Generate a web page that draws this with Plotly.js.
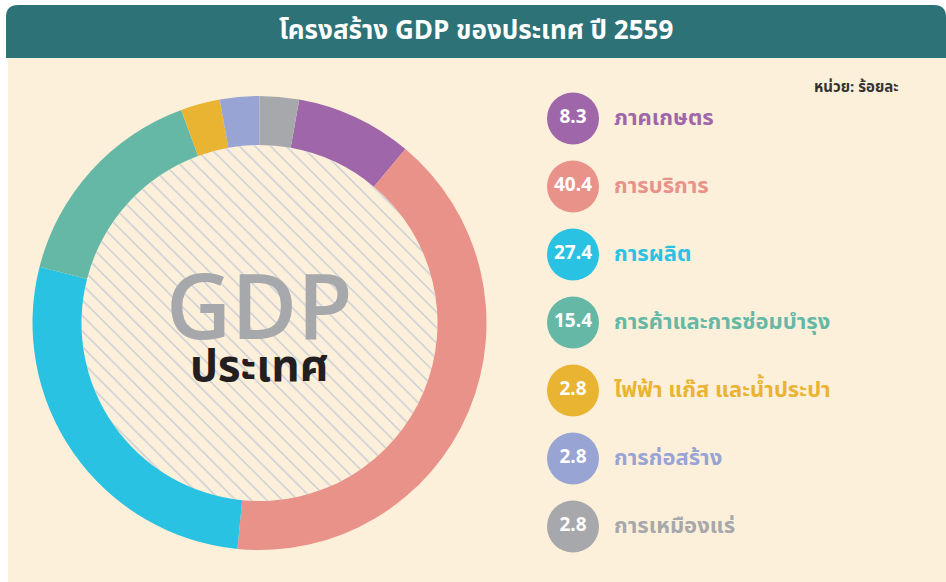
<!DOCTYPE html>
<html>
<head>
<meta charset="utf-8">
<script src="https://cdn.plot.ly/plotly-3.0.1.min.js"></script>
<style>html,body{margin:0;padding:0;background:#fff;}#chart{width:946px;height:582px;}</style>
</head>
<body>
<div id="chart"></div>
<script>
// ---- data ----
const sectors = ['ภาคเกษตร', 'การบริการ', 'การผลิต', 'การค้าและการซ่อมบำรุง', 'ไฟฟ้า แก๊ส และน้ำประปา', 'การก่อสร้าง', 'การเหมืองแร่'];
const shares = [8.3, 40.4, 27.4, 15.4, 2.8, 2.8, 2.8];
const sectorColors = ['#a066aa', '#e9928a', '#29c2e2', '#66b8a6', '#e9b431', '#97a4d4', '#a7a8ab'];
const titleText = 'โครงสร้าง GDP ของประเทศ ปี 2559';
const unitText = 'หน่วย: ร้อยละ';
const centerBig = 'GDP';
const centerSmall = 'ประเทศ';

// ---- layout helpers (pixel space) ----
const W = 946, H = 582;
const cx = 259.5, cy = 323, rOut = 227, rIn = 178;
const FONT = '"Noto Sans Thai", "Noto Sans", "Open Sans", sans-serif';
const CREAM = '#fdf0da';

function dom(c, r, total) { return [(c - r) / total, (c + r) / total]; }

const total = shares.reduce((a, b) => a + b, 0);
const lastShare = shares[shares.length - 1];

const donut = {
  type: 'pie',
  values: shares,
  labels: sectors,
  marker: { colors: sectorColors, line: { width: 0 } },
  hole: rIn / rOut,
  sort: false,
  direction: 'clockwise',
  rotation: lastShare / total * 360,
  textinfo: 'none',
  hoverinfo: 'label+value',
  showlegend: false,
  domain: { x: dom(cx, rOut, W), y: dom(H - cy, rOut, H) }
};

const hatch = {
  type: 'pie',
  values: [1],
  labels: [''],
  marker: {
    colors: [CREAM],
    line: { width: 0 },
    pattern: { shape: '\\', fgcolor: '#c8ccd6', bgcolor: CREAM, size: 11, solidity: 0.13 }
  },
  sort: false,
  textinfo: 'none',
  hoverinfo: 'skip',
  showlegend: false,
  domain: { x: dom(cx, rIn, W), y: dom(H - cy, rIn, H) }
};

// legend rows
const rowX = 573, rowY0 = 118.5, rowStep = 68;
const rowYs = sectors.map((_, i) => rowY0 + i * rowStep);

const legendDots = {
  type: 'scatter',
  mode: 'markers+text',
  x: sectors.map(() => rowX),
  y: rowYs,
  text: shares.map(v => v.toFixed(1)),
  textposition: 'middle center',
  textfont: { family: FONT, size: 19, color: '#ffffff', weight: 'bold' },
  marker: { size: 52, color: sectorColors, line: { width: 0 } },
  hoverinfo: 'skip',
  showlegend: false,
  xaxis: 'x', yaxis: 'y'
};

const centerLabel =
  '<span style="font-size:90px;color:#a7a8ab;font-family:\'Open Sans\',\'Noto Sans\',sans-serif;font-weight:600">' + centerBig + '</span>' +
  '<br><span style="font-size:44px;color:#231f20;font-weight:bold">' + centerSmall + '</span>';

const annotations = [
  { text: titleText, x: 476, y: 31, xref: 'x', yref: 'y', showarrow: false,
    font: { family: FONT, size: 26, color: '#ffffff', weight: 'bold' } },
  { text: unitText, x: 901, y: 87, xref: 'x', yref: 'y', xanchor: 'right', showarrow: false,
    font: { family: FONT, size: 15, color: '#333333', weight: 'bold' } },
  { text: centerLabel, x: cx, y: 322, xref: 'x', yref: 'y', showarrow: false,
    font: { family: FONT, size: 32, color: '#231f20', weight: 'bold' } }
];
sectors.forEach((s, i) => {
  annotations.push({
    text: s, x: 612, y: rowYs[i], xref: 'x', yref: 'y', xanchor: 'left', showarrow: false,
    font: { family: FONT, size: 22, color: sectorColors[i], weight: 'bold' }
  });
});

const shapes = [
  { type: 'rect', xref: 'x', yref: 'y', x0: 8, x1: 946, y0: 58, y1: 582,
    fillcolor: CREAM, line: { width: 0 }, layer: 'below' },
  { type: 'path', xref: 'x', yref: 'y',
    path: 'M6,58 L6,17 Q6,5 18,5 L934,5 Q946,5 946,17 L946,58 Z',
    fillcolor: '#2d7277', line: { width: 0 }, layer: 'below' }
];

const layout = {
  width: W, height: H,
  margin: { l: 0, r: 0, t: 0, b: 0, pad: 0 },
  paper_bgcolor: '#ffffff',
  plot_bgcolor: 'rgba(0,0,0,0)',
  xaxis: { range: [0, W], visible: false, fixedrange: true, domain: [0, 1] },
  yaxis: { range: [H, 0], visible: false, fixedrange: true, domain: [0, 1] },
  shapes: shapes,
  annotations: annotations,
  showlegend: false
};

Plotly.newPlot('chart', [legendDots, hatch, donut], layout, { displayModeBar: false, staticPlot: true });
</script>
</body>
</html>
